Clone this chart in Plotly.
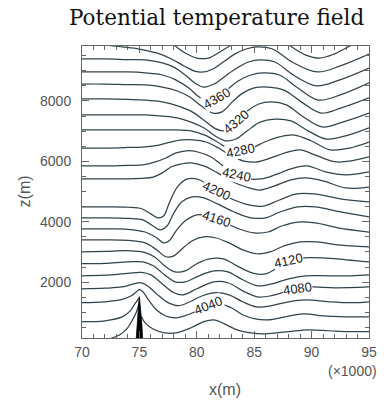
import plotly.graph_objects as go

# ---------------- data (x in km, z in m) ----------------
x_4000 = [72.4, 73.3, 73.9, 74.4, 74.75, 74.95]
z_4000 = [120, 260, 450, 750, 1020, 1280]

x_4020a = [70, 72, 73.5, 74.2, 74.6, 74.85, 74.98]
z_4020a = [690, 720, 850, 1050, 1280, 1410, 1480]

x_4020b = [75.15, 75.5, 76.2, 77.2, 78.2, 79.5, 80.6, 81.5, 82.4, 83.5, 84.7, 86, 88, 89.7, 91.5, 93.2, 95]
z_4020b = [880, 650, 450, 320, 320, 490, 690, 750, 620, 420, 320, 290, 360, 420, 390, 360, 360]

x_4040 = [70, 72, 73.5, 74.3, 74.75, 75.0, 75.3, 75.8, 76.5, 77.3, 78.2, 79.2, 80.2, 81.0, 82.0, 83.0, 84.0, 85.0, 86.2, 87.7, 89.3, 91, 93, 95]
z_4040 = [1320, 1350, 1430, 1550, 1680, 1750, 1680, 1410, 1080, 880, 820, 920, 1080, 1220, 1280, 1150, 920, 790, 750, 850, 950, 880, 850, 850]

x_4060 = [70, 72, 73.5, 74.5, 75.1, 75.7, 76.5, 77.5, 78.4, 79.4, 80.5, 81.7, 82.8, 84.0, 85.2, 86.5, 88, 89.5, 91.5, 93.5, 95]
z_4060 = [1780, 1800, 1840, 1940, 1980, 1880, 1610, 1320, 1220, 1350, 1550, 1650, 1580, 1350, 1180, 1220, 1350, 1410, 1350, 1320, 1350]

x_4080 = [70, 72, 74, 75.2, 76, 77, 78, 78.8, 80, 81.5, 82.7, 84, 85.3, 86.5, 87.7, 88.73, 90, 92, 95]
z_4080 = [2210, 2230, 2290, 2320, 2240, 1940, 1650, 1580, 1780, 2010, 1980, 1710, 1510, 1550, 1680, 1780, 1840, 1810, 1840]

x_4100 = [70, 72, 74, 75.3, 76.2, 77.2, 78.1, 79, 80.2, 81.5, 82.7, 84, 85.3, 86.5, 88, 89.5, 91.5, 93.5, 95]
z_4100 = [2610, 2620, 2670, 2670, 2540, 2240, 2010, 2010, 2210, 2370, 2340, 2080, 1880, 1940, 2110, 2210, 2210, 2210, 2240]

x_4120 = [70, 72, 74, 75.3, 76.3, 77.2, 78.1, 79, 80, 81.1, 82.3, 83.5, 84.8, 86, 87, 87.97, 89.3, 91, 93, 95]
z_4120 = [3000, 3020, 3040, 3000, 2840, 2540, 2340, 2370, 2610, 2770, 2770, 2540, 2310, 2270, 2470, 2705, 2800, 2800, 2740, 2670]

x_4140 = [70, 72, 74, 75.5, 76.5, 77.3, 78.0, 78.7, 79.6, 80.6, 81.6, 82.8, 84.0, 85.2, 86.4, 87.6, 89.0, 90.5, 92.3, 95]
z_4140 = [3400, 3400, 3380, 3300, 3070, 2840, 2870, 3100, 3370, 3500, 3470, 3300, 3070, 2940, 3000, 3200, 3330, 3330, 3230, 3170]

x_4160 = [70, 72, 74, 75.5, 76.5, 77.1, 77.6, 78.2, 79.0, 80.0, 81.0, 81.68, 82.5, 83.7, 85.0, 86.2, 87.4, 88.8, 90.3, 92.3, 95]
z_4160 = [3760, 3760, 3750, 3660, 3470, 3300, 3370, 3700, 4030, 4230, 4190, 4095, 3960, 3760, 3630, 3660, 3860, 3990, 3960, 3800, 3660]

x_4180 = [70, 72, 74, 75.3, 76.2, 76.8, 77.4, 78.0, 78.7, 79.6, 80.6, 81.8, 83.2, 84.7, 86.0, 87.3, 88.8, 90.3, 92.5, 95]
z_4180 = [4130, 4130, 4110, 4060, 3860, 3730, 3860, 4290, 4660, 4820, 4790, 4590, 4330, 4130, 4130, 4330, 4490, 4490, 4330, 4160]

x_4200 = [70, 72, 74, 75.2, 76.0, 76.6, 77.1, 77.6, 78.3, 79.2, 80.2, 81.68, 83.0, 84.5, 85.8, 87.2, 88.7, 90.2, 92.5, 95]
z_4200 = [4490, 4490, 4480, 4430, 4260, 4130, 4190, 4620, 5150, 5420, 5390, 5020, 4760, 4560, 4520, 4720, 4920, 4920, 4760, 4660]

x_4220 = [70, 72, 74, 75.2, 76.2, 77.0, 77.8, 78.6, 79.5, 80.6, 81.8, 83.0, 84.3, 85.5, 86.8, 88.2, 89.5, 91, 93, 95]
z_4220 = [5420, 5420, 5420, 5440, 5480, 5620, 5820, 5910, 5950, 5850, 5620, 5350, 5150, 5050, 5190, 5390, 5450, 5350, 5120, 5150]

x_4240 = [70, 72, 74, 75.3, 76.4, 77.3, 78.2, 79.1, 80.1, 81.2, 82.3, 83.46, 84.5, 85.6, 86.8, 88.2, 89.6, 91.2, 93, 95]
z_4240 = [5850, 5850, 5870, 5880, 5980, 6110, 6280, 6350, 6310, 6150, 5850, 5550, 5420, 5420, 5550, 5750, 5850, 5650, 5550, 5650]

x_4260 = [70, 72, 74, 75.5, 76.7, 77.7, 78.7, 79.7, 80.8, 81.9, 83.0, 84.1, 85.2, 86.4, 87.7, 89.0, 90.5, 92.2, 95]
z_4260 = [6440, 6440, 6460, 6480, 6540, 6640, 6710, 6710, 6640, 6440, 6180, 6010, 5980, 6110, 6280, 6380, 6180, 5980, 6150]

x_4280 = [70, 72, 74, 75.5, 77, 78.3, 79.5, 80.7, 81.8, 82.8, 83.8, 84.8, 85.9, 87.2, 88.5, 90, 91.6, 93.3, 95]
z_4280 = [7040, 7040, 7040, 7040, 7040, 7040, 7010, 6870, 6640, 6410, 6345, 6440, 6640, 6810, 6870, 6675, 6380, 6440, 6640]

x_4300 = [70, 72, 74, 75.5, 77, 78.3, 79.5, 80.6, 81.6, 82.5, 83.4, 84.4, 85.5, 86.8, 88.2, 89.7, 91.3, 93.2, 95]
z_4300 = [7540, 7540, 7540, 7540, 7500, 7440, 7300, 7110, 6840, 6680, 6740, 7010, 7300, 7400, 7340, 7010, 6740, 6870, 7110]

x_4320 = [70, 72, 74, 75.5, 77, 78.4, 79.6, 80.6, 81.5, 82.3, 83.46, 84.4, 85.4, 86.5, 87.8, 89.3, 90.9, 92.7, 95]
z_4320 = [8065, 8065, 8050, 8030, 7970, 7830, 7640, 7370, 7110, 7010, 7300, 7670, 7900, 7970, 7870, 7470, 7140, 7300, 7600]

x_4340 = [70, 72, 74, 75.5, 77, 78.3, 79.4, 80.4, 81.4, 82.2, 83.1, 84.0, 85.0, 86.2, 87.6, 89.1, 90.8, 92.6, 95]
z_4340 = [8560, 8560, 8540, 8530, 8460, 8330, 8130, 7830, 7600, 7640, 7970, 8260, 8430, 8460, 8360, 7970, 7600, 7770, 8100]

x_4360 = [70, 72, 74, 75.5, 77, 78.2, 79.3, 80.2, 80.9, 81.68, 82.6, 83.6, 84.7, 85.8, 87.2, 88.8, 90.6, 92.5, 95]
z_4360 = [8960, 8960, 8960, 8930, 8860, 8690, 8430, 8130, 8000, 8098, 8360, 8660, 8860, 8930, 8860, 8430, 8030, 8200, 8600]

x_4380 = [70, 72, 74, 75.5, 77, 78, 79, 79.8, 80.6, 81.5, 82.5, 83.5, 84.5, 85.5, 86.8, 88.4, 90.4, 92.4, 95]
z_4380 = [9390, 9390, 9370, 9360, 9260, 9120, 8860, 8600, 8460, 8560, 8830, 9090, 9290, 9360, 9290, 8860, 8500, 8690, 9090]

x_4400 = [70, 72, 73.5, 75, 76.5, 77.8, 78.9, 79.8, 80.6, 81.4, 82.3, 83.3, 84.3, 85.3, 86.6, 88.3, 90.5, 92.5, 95]
z_4400 = [9890, 9850, 9790, 9720, 9590, 9390, 9160, 8990, 8960, 9060, 9290, 9550, 9720, 9790, 9720, 9290, 8960, 9160, 9550]

x_4420 = [77.0, 78.0, 79.0, 80.0, 81.0, 82.0, 83.0, 84.0, 85.3, 86.6, 88.0, 89.5, 90.7, 92.0, 93.5, 95]
z_4420 = [10080, 9850, 9590, 9420, 9420, 9620, 9850, 10050, 10180, 10120, 9850, 9520, 9420, 9560, 9850, 10120]

# terrain (mountain)
terrain_x = [74.7, 74.77, 74.84, 74.9, 74.96, 75.0, 75.04, 75.1, 75.16, 75.23, 75.3]
terrain_h = [0, 500, 850, 1150, 1400, 1520, 1400, 1150, 850, 500, 0]

# contour labels
label_text = ["4040", "4080", "4120", "4160", "4200", "4240", "4280", "4320", "4360"]
label_x = [81.0, 88.73, 87.97, 81.68, 81.68, 83.46, 83.8, 83.46, 81.68]
label_z = [1216, 1778, 2705, 4095, 5021, 5551, 6345, 7304, 8098]
label_angle = [-22, -8, -12, 18, 25, 12, -12, -40, -30]

x_ticks = [70, 75, 80, 85, 90, 95]
y_ticks = [2000, 4000, 6000, 8000]

lines = [
    (x_4000, z_4000), (x_4020a, z_4020a), (x_4020b, z_4020b), (x_4040, z_4040),
    (x_4060, z_4060), (x_4080, z_4080), (x_4100, z_4100), (x_4120, z_4120),
    (x_4140, z_4140), (x_4160, z_4160), (x_4180, z_4180), (x_4200, z_4200),
    (x_4220, z_4220), (x_4240, z_4240), (x_4260, z_4260), (x_4280, z_4280),
    (x_4300, z_4300), (x_4320, z_4320), (x_4340, z_4340), (x_4360, z_4360),
    (x_4380, z_4380), (x_4400, z_4400), (x_4420, z_4420),
]

LINE_COLOR = "#33434b"
AX_COLOR = "#666666"
TXT_COLOR = "#555555"

fig = go.Figure()
for xs, zs in lines:
    fig.add_trace(go.Scatter(
        x=xs, y=zs, mode="lines",
        line=dict(color=LINE_COLOR, width=1.25, shape="spline", smoothing=1.0),
        hoverinfo="skip", showlegend=False))

fig.add_trace(go.Scatter(
    x=terrain_x, y=terrain_h, mode="lines", fill="tozeroy",
    fillcolor="black", line=dict(color="black", width=0.8),
    hoverinfo="skip", showlegend=False))

for t, lx, lz, ang in zip(label_text, label_x, label_z, label_angle):
    fig.add_annotation(x=lx, y=lz, xref="x", yref="y", text=t, showarrow=False,
                       textangle=ang, bgcolor="white", borderpad=0,
                       font=dict(family="Liberation Sans", size=13, color="#222222"))

fig.add_annotation(x=0.942, y=-0.112, xref="paper", yref="paper", text="(×1000)",
                   showarrow=False, xanchor="center", yanchor="middle",
                   font=dict(family="Liberation Sans", size=14, color=TXT_COLOR))
fig.add_annotation(x=0.497, y=-0.178, xref="paper", yref="paper", text="x(m)",
                   showarrow=False, xanchor="center", yanchor="middle",
                   font=dict(family="Liberation Sans", size=16, color=TXT_COLOR))
fig.add_annotation(x=-0.201, y=0.503, xref="paper", yref="paper", text="z(m)",
                   showarrow=False, xanchor="center", yanchor="middle", textangle=-90,
                   font=dict(family="Liberation Sans", size=16, color=TXT_COLOR))
fig.add_annotation(x=0.469, y=1.096, xref="paper", yref="paper",
                   text="Potential temperature field", showarrow=False,
                   xanchor="center", yanchor="middle",
                   font=dict(family="DejaVu Serif", size=21.5, color="#111111"))

fig.update_xaxes(range=[70, 95], tickmode="array", tickvals=x_ticks,
                 ticks="inside", ticklen=7, tickwidth=1, tickcolor=AX_COLOR,
                 showline=True, linecolor=AX_COLOR, linewidth=1, mirror="ticks",
                 showgrid=False, zeroline=False, ticklabelstandoff=1,
                 tickfont=dict(family="Liberation Sans", size=14, color=TXT_COLOR),
                 minor=dict(tickmode="linear", tick0=70, dtick=1, ticks="inside",
                            ticklen=4, tickcolor=AX_COLOR, showgrid=False))
fig.update_yaxes(range=[150, 9820], tickmode="array", tickvals=y_ticks,
                 ticks="inside", ticklen=7, tickwidth=1, tickcolor=AX_COLOR,
                 showline=True, linecolor=AX_COLOR, linewidth=1, mirror="ticks",
                 showgrid=False, zeroline=False, ticklabelstandoff=7,
                 tickfont=dict(family="Liberation Sans", size=14, color=TXT_COLOR),
                 minor=dict(tickmode="linear", tick0=0, dtick=500, ticks="inside",
                            ticklen=4, tickcolor=AX_COLOR, showgrid=False))

fig.update_layout(width=389, height=401,
                  margin=dict(l=82, r=13, t=46, b=63),
                  paper_bgcolor="white", plot_bgcolor="white",
                  showlegend=False)

fig.write_html("out.html")
